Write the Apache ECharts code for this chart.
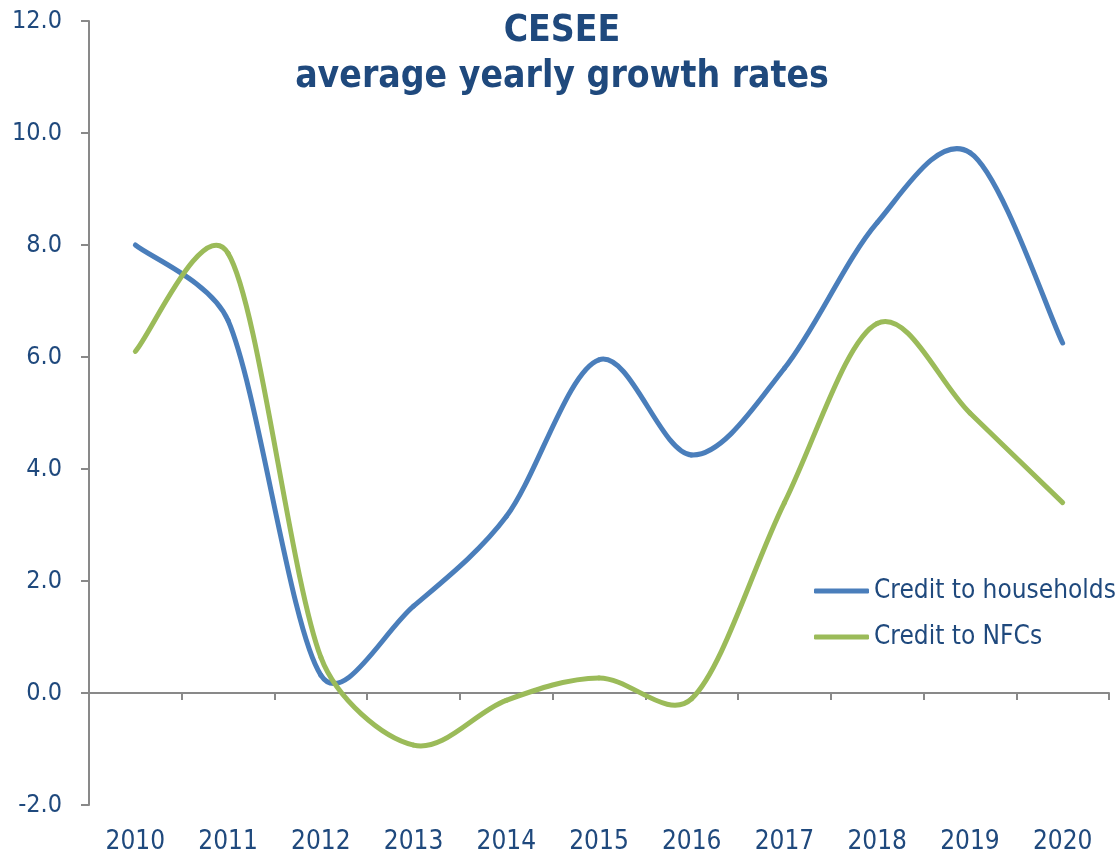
<!DOCTYPE html>
<html>
<head>
<meta charset="utf-8">
<script src="https://cdn.jsdelivr.net/npm/echarts@6/dist/echarts.min.js"></script>
<style>
html,body{margin:0;padding:0;background:#fff;}
#chart{width:1119px;height:856px;}
</style>
</head>
<body>
<div id="chart"></div>
<script>
const years = ['2010','2011','2012','2013','2014','2015','2016','2017','2018','2019','2020'];
const households = [8.0, 6.65, 0.32, 1.55, 3.15, 5.95, 4.25, 5.8, 8.4, 9.65, 6.25];
const nfcs = [6.1, 7.85, 0.64, -0.93, -0.13, 0.27, -0.1, 3.4, 6.6, 5.0, 3.4];
const yTicks = [-2, 0, 2, 4, 6, 8, 10, 12];

const textColor = '#1F497D';
const axisGray = '#898989';
const font = 'DejaVu Sans Condensed';

// Excel-like smoothed line: each data item draws the cubic segment to the next point.
// Control handles are 1/6 of the neighbour chord, limited to a share of the segment length.
const CAP = 0.35;
function handle(a, b, segLen) {
  let hx = (b[0] - a[0]) / 6, hy = (b[1] - a[1]) / 6;
  const len = Math.hypot(hx, hy);
  const lim = CAP * segLen;
  if (len > lim && len > 0) { hx *= lim / len; hy *= lim / len; }
  return [hx, hy];
}
function smoothRenderer(color) {
  return function (params, api) {
    const i = params.dataIndexInside;
    const n = params.dataInsideLength;
    if (i >= n - 1) return null;
    const pt = k => api.coord([api.value(0, k), api.value(1, k)]);
    const p1 = pt(i), p2 = pt(i + 1);
    const p0 = i > 0 ? pt(i - 1) : p1;
    const p3 = i + 2 < n ? pt(i + 2) : p2;
    const seg = Math.hypot(p2[0] - p1[0], p2[1] - p1[1]);
    const h1 = handle(p0, p2, seg);
    const h2 = handle(p1, p3, seg);
    return {
      type: 'bezierCurve',
      shape: {
        x1: p1[0], y1: p1[1], x2: p2[0], y2: p2[1],
        cpx1: p1[0] + h1[0], cpy1: p1[1] + h1[1],
        cpx2: p2[0] - h2[0], cpy2: p2[1] - h2[1]
      },
      style: { stroke: color, lineWidth: 5, fill: null, lineCap: 'round' }
    };
  };
}

const chart = echarts.init(document.getElementById('chart'));
chart.setOption({
  animation: false,
  backgroundColor: '#ffffff',
  title: {
    text: 'CESEE\naverage yearly growth rates',
    left: 557,
    top: 3,
    textAlign: 'center',
    textStyle: {
      fontFamily: font,
      fontWeight: 'bold',
      fontSize: 37,
      lineHeight: 46,
      color: textColor
    }
  },
  legend: {
    orient: 'vertical',
    left: 814,
    top: 578,
    padding: 0,
    itemWidth: 55,
    itemHeight: 5,
    itemGap: 20,
    icon: 'roundRect',
    textStyle: { fontFamily: font, fontSize: 26, color: textColor },
    data: ['Credit to households', 'Credit to NFCs']
  },
  grid: { left: 89, right: 10, top: 21, bottom: 51, containLabel: false },
  xAxis: [
    {
      type: 'category',
      data: years,
      position: 'bottom',
      boundaryGap: true,
      axisLine: { show: false, onZero: false },
      axisTick: { show: false },
      axisLabel: { fontFamily: font, fontSize: 26, color: textColor, margin: 24 },
      splitLine: { show: false }
    },
    {
      type: 'category',
      data: years,
      position: 'bottom',
      boundaryGap: true,
      axisLine: { show: true, onZero: true, lineStyle: { color: axisGray, width: 2 } },
      axisTick: { show: true, inside: false, length: 7, lineStyle: { color: axisGray, width: 2 } },
      axisLabel: { show: false },
      splitLine: { show: false }
    }
  ],
  yAxis: {
    type: 'value',
    min: yTicks[0],
    max: yTicks[yTicks.length - 1],
    interval: 2,
    axisLine: { show: true, lineStyle: { color: axisGray, width: 2 } },
    axisTick: { show: true, inside: false, length: 8, lineStyle: { color: axisGray, width: 2 } },
    axisLabel: {
      fontFamily: font, fontSize: 25, color: textColor, margin: 27,
      formatter: v => v.toFixed(1)
    },
    splitLine: { show: false }
  },
  series: [
    {
      name: 'Credit to households',
      type: 'custom',
      xAxisIndex: 0,
      itemStyle: { color: '#4A7EBB' },
      data: households.map((v, k) => [k, v]),
      encode: { x: 0, y: 1 },
      renderItem: smoothRenderer('#4A7EBB')
    },
    {
      name: 'Credit to NFCs',
      type: 'custom',
      xAxisIndex: 0,
      itemStyle: { color: '#9BBB59' },
      data: nfcs.map((v, k) => [k, v]),
      encode: { x: 0, y: 1 },
      renderItem: smoothRenderer('#9BBB59')
    }
  ]
});
</script>
</body>
</html>
